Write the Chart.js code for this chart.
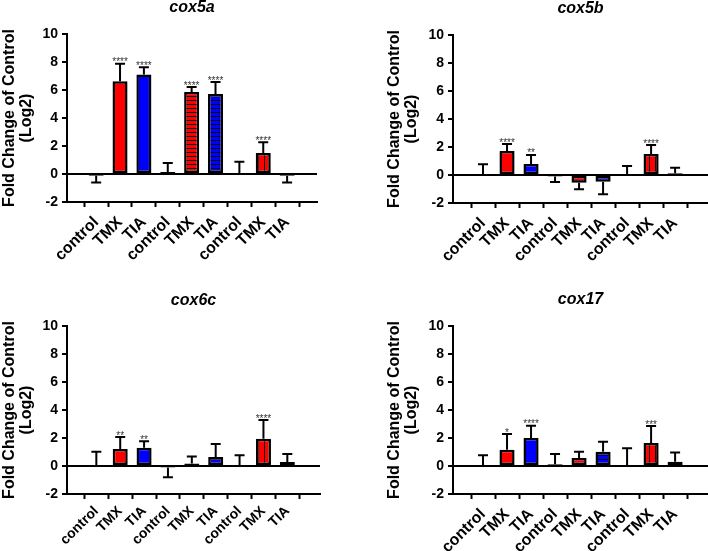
<!DOCTYPE html>
<html><head><meta charset="utf-8">
<script src="https://cdn.jsdelivr.net/npm/chart.js@4.4.1/dist/chart.umd.min.js"></script>
<style>
html,body{margin:0;padding:0;background:#fff;overflow:hidden;width:708px;height:551px;position:relative}
canvas{position:absolute;display:block}
</style></head><body>
<canvas id="c1" width="354" height="275" style="left:0;top:0"></canvas>
<canvas id="c2" width="323" height="275" style="left:385px;top:0"></canvas>
<canvas id="c3" width="354" height="276" style="left:0;top:275px"></canvas>
<canvas id="c4" width="323" height="276" style="left:385px;top:275px"></canvas>
<script>
// ---- data ----
const categories = ['control','TMX','TIA','control','TMX','TIA','control','TMX','TIA'];
const yTicks = [-2, 0, 2, 4, 6, 8, 10];
const yTitle = ['Fold Change of Control', '(Log2)'];

const cox5aMean = [-0.12, 6.62, 7.1, 0.14, 5.86, 5.71, 0, 1.5, -0.12];
const cox5aErr  = [0.48, 1.26, 0.52, 0.65, 0.35, 0.86, 0.88, 0.76, 0.48];
const cox5aSig  = ['', '****', '****', '', '****', '****', '', '****', ''];

const cox5bMean = [0, 1.71, 0.78, -0.1, -0.55, -0.48, 0, 1.5, 0.12];
const cox5bErr  = [0.76, 0.5, 0.65, 0.4, 0.47, 0.9, 0.64, 0.64, 0.4];
const cox5bSig  = ['', '****', '**', '', '', '', '', '****', ''];

const cox6cMean = [0, 1.21, 1.31, -0.1, 0.17, 0.64, 0, 1.95, 0.29];
const cox6cErr  = [1.02, 0.86, 0.45, 0.71, 0.5, 0.93, 0.76, 1.33, 0.57];
const cox6cSig  = ['', '**', '**', '', '', '', '', '****', ''];

const cox17Mean = [0, 1.16, 2.0, 0.12, 0.57, 1.02, 0, 1.64, 0.31];
const cox17Err  = [0.76, 1.12, 0.87, 0.74, 0.45, 0.71, 1.26, 1.21, 0.66];
const cox17Sig  = ['', '*', '****', '', '', '', '', '***', ''];

// ---- styles ----
const RED = '#ff0000', BLUE = '#0000ff';
const FONT = '"Liberation Sans", Arial, Helvetica, sans-serif';

function stripe(color, dir) {
  const c = document.createElement('canvas');
  const ctx = c.getContext('2d');
  if (dir === 'h') { c.width = 4; c.height = 4; ctx.fillStyle = color; ctx.fillRect(0,0,4,4); ctx.fillStyle = '#000'; ctx.fillRect(0,0,4,1); }
  else { c.width = 6; c.height = 6; ctx.fillStyle = color; ctx.fillRect(0,0,6,6); ctx.fillStyle = '#000'; ctx.fillRect(0,0,1,6); }
  return ctx.createPattern(c, 'repeat');
}
function fills(ctx) {
  return categories.map((c, i) => {
    const base = c === 'control' ? '#ffffff' : (c === 'TMX' ? RED : BLUE);
    const g = Math.floor(i / 3);
    if (c === 'control' || g === 0) return base;
    return stripe(base, g === 1 ? 'h' : 'v');
  });
}

function errPlugin(title, mean, err, sig, L) {
  return {
    id: 'errbars',
    afterDatasetsDraw(chart) {
      const {ctx, chartArea, scales: {x, y}} = chart;
      ctx.save();
      ctx.strokeStyle = '#000'; ctx.lineWidth = 2;
      mean.forEach((m, i) => {
        const px = x.getPixelForValue(i);
        const dir = m < 0 ? -1 : 1;
        const end = m + dir * err[i];
        const y0 = y.getPixelForValue(m), y1 = y.getPixelForValue(end);
        ctx.beginPath();
        ctx.moveTo(px, y0); ctx.lineTo(px, y1);
        ctx.moveTo(px - 5, y1); ctx.lineTo(px + 5, y1);
        ctx.stroke();
        if (sig[i]) {
          ctx.fillStyle = '#333';
          ctx.font = '10px ' + FONT;
          ctx.textAlign = 'center'; ctx.textBaseline = 'alphabetic';
          ctx.fillText(sig[i], px, y1 + 1.5);
        }
      });
      // panel title centred over the plot area
      ctx.fillStyle = '#000';
      ctx.font = 'italic bold 16px ' + FONT;
      ctx.textAlign = 'center'; ctx.textBaseline = 'middle';
      ctx.fillText(title, (chartArea.left + chartArea.right) / 2, L.tY);
      ctx.restore();
    }
  };
}

function makeChart(id, title, mean, err, sig, L) {
  const el = document.getElementById(id);
  const ctx = el.getContext('2d');
  return new Chart(ctx, {
    type: 'bar',
    data: {
      datasets: [{
        data: mean.map((v, i) => ({x: i, y: v})),
        backgroundColor: fills(ctx),
        borderColor: '#000',
        borderWidth: 2.5,
        borderSkipped: false,
        barPercentage: 0.63,
        categoryPercentage: 1
      }]
    },
    options: {
      responsive: false,
      animation: false,
      layout: {padding: {left: 0, top: L.top, right: L.right, bottom: 0}},
      plugins: {
        legend: {display: false},
        tooltip: {enabled: false},
        title: {display: false}
      },
      scales: {
        x: {
          type: 'linear', min: L.xmin, max: L.xmax,
          afterFit: s => { s.height = L.h - L.bottom; },
          border: {display: true, color: '#000', width: 2},
          grid: {display: true, drawOnChartArea: false, drawTicks: true, tickLength: 5, tickColor: '#000', tickWidth: 2, color: '#000'},
          ticks: {
            stepSize: 1, includeBounds: false, autoSkip: false,
            maxRotation: 45, minRotation: 45, padding: L.xpad, color: '#000',
            font: {family: FONT, size: L.xfs, weight: 'bold'},
            callback: v => (Number.isInteger(v) && categories[v] !== undefined) ? categories[v] : ''
          }
        },
        y: {
          min: yTicks[0], max: yTicks[yTicks.length - 1],
          afterFit: s => { s.width = L.left; },
          afterBuildTicks: s => { s.ticks = yTicks.map(v => ({value: v})); },
          border: {display: true, color: '#000', width: 2},
          grid: {
            drawTicks: true, tickLength: 5, tickColor: '#000', tickWidth: 2, lineWidth: 2,
            color: c => (c.tick && c.tick.value === 0) ? '#000' : 'rgba(0,0,0,0)'
          },
          ticks: {padding: 4, color: '#000', font: {family: FONT, size: 14, weight: 'bold'}},
          title: {
            display: true, text: yTitle, color: '#000',
            font: {family: FONT, size: 16, weight: 'bold', lineHeight: 1.08},
            padding: {top: 1, bottom: 0}
          }
        }
      }
    },
    plugins: [errPlugin(title, mean, err, sig, L)]
  });
}

makeChart('c1', 'cox5a', cox5aMean, cox5aErr, cox5aSig, {left: 67, right: 37, top: 34, bottom: 202, h: 275, tY: 8, xmin: -0.64, xmax: 8.67, xfs: 16, xpad: 6});
makeChart('c2', 'cox5b', cox5bMean, cox5bErr, cox5bSig, {left: 68, right: 0, top: 35, bottom: 203, h: 275, tY: 9, xmin: -0.66, xmax: 8.78, xfs: 16, xpad: 6});
makeChart('c3', 'cox6c', cox6cMean, cox6cErr, cox6cSig, {left: 67, right: 34, top: 51, bottom: 219, h: 276, tY: 26, xmin: -0.64, xmax: 8.78, xfs: 14, xpad: 4});
makeChart('c4', 'cox17', cox17Mean, cox17Err, cox17Sig, {left: 68, right: 0, top: 51, bottom: 219, h: 276, tY: 25, xmin: -0.66, xmax: 8.78, xfs: 16, xpad: 6});
</script>
</body></html>
